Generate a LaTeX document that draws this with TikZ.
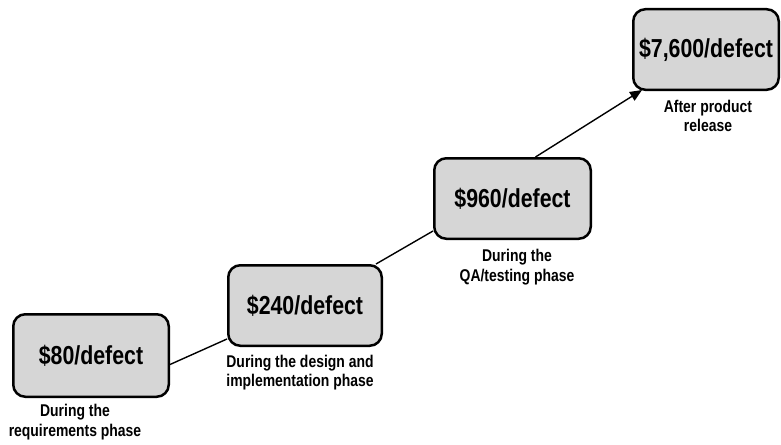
\documentclass[tikz,border=0pt]{standalone}
\usepackage{fontspec}
\setmainfont{Liberation Sans}[FakeStretch=0.82]
\usetikzlibrary{arrows.meta}
\definecolor{boxgray}{RGB}{214,214,214}
\begin{document}
\begin{tikzpicture}[x=1pt,y=-1pt,
  box/.style={draw=black, line width=2.5pt, fill=boxgray, rounded corners=12pt, inner sep=0pt,
    font=\fontsize{26}{30}\selectfont\bfseries},
  lbl/.style={font=\fontsize{17}{19.5}\selectfont\bfseries, align=center, inner sep=0pt},
  conn/.style={line width=1.4pt}]
\useasboundingbox (0,0) rectangle (781,444);
\node[box, minimum width=155.5pt, minimum height=82.5pt] (b1) at (91,355.5) {\$80/defect};
\node[box, minimum width=153.5pt, minimum height=80.5pt] (b2) at (305,305.5) {\$240/defect};
\node[box, minimum width=156.5pt, minimum height=80.5pt] (b3) at (512.5,198.5) {\$960/defect};
\node[box, minimum width=145.5pt, minimum height=80.5pt] (b4) at (706,49.5) {\$7,600/defect};

\node[lbl] (l1) at (75,422) {During the\\requirements phase};
\node[lbl] (l2) at (300,372.5) {During the design and\\implementation phase};
\node[lbl] (l3) at (517,267) {During the\\QA/testing phase};
\node[lbl] (l4) at (708,116) {After product\\release};

\draw[conn] ([yshift=-9pt]b1.east) -- ([yshift=8pt]b2.south west);
\draw[conn] ([xshift=-7pt]b2.north east) -- ([yshift=9pt]b3.south west);
\draw[conn, -{Triangle[length=12pt,width=10pt]}] ([xshift=23pt]b3.north) -- ([xshift=10pt,yshift=1pt]b4.south west);
\end{tikzpicture}
\end{document}
